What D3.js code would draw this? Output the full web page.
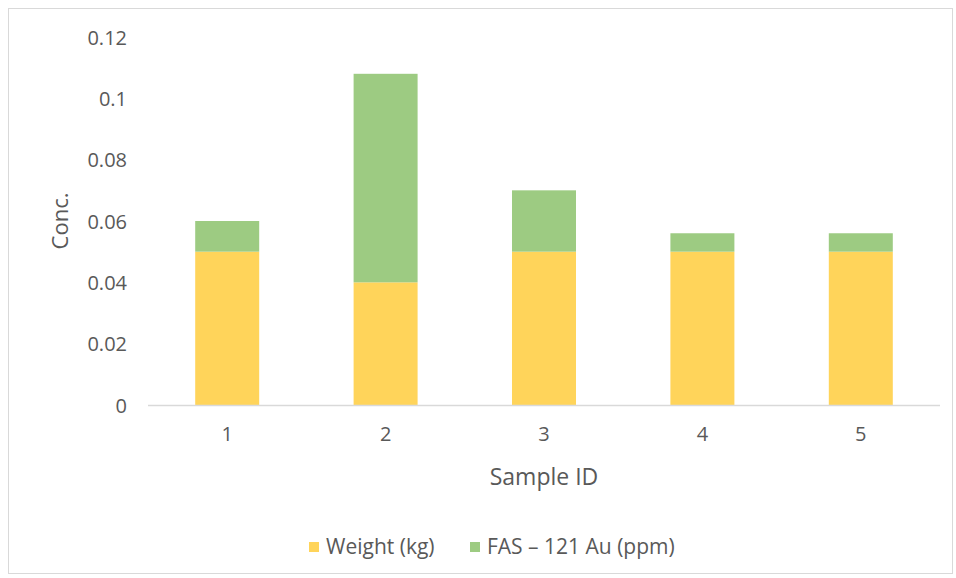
<!DOCTYPE html>
<html>
<head>
<meta charset="utf-8">
<script src="https://cdn.jsdelivr.net/npm/d3@7/dist/d3.min.js"></script>
<style>
  html, body { margin: 0; padding: 0; background: #fff; }
  svg text { font-family: "Open Sans", "Noto Sans", sans-serif; fill: #595959; }
</style>
</head>
<body>
<svg id="chart" width="956" height="578"></svg>
<script>
// Sample IDs and stacked series values
const categories = ["1", "2", "3", "4", "5"];
const weightKg = [0.05, 0.04, 0.05, 0.05, 0.05];
const fasAu = [0.01, 0.068, 0.02, 0.006, 0.006];
const seriesNames = ["Weight (kg)", "FAS \u2013 121 Au (ppm)"];
const seriesColors = ["#ffd45a", "#9dcb82"];
const yTicks = [0, 0.02, 0.04, 0.06, 0.08, 0.1, 0.12];

const svg = d3.select("#chart");
const W = 956, H = 578;

// Outer chart frame
svg.append("rect")
  .attr("x", 8.5).attr("y", 8.5)
  .attr("width", W - 12).attr("height", H - 13)
  .attr("fill", "#fff").attr("stroke", "#d9d9d9").attr("stroke-width", 1);

const plot = { left: 148, right: 940, top: 37, bottom: 405 };

const x = d3.scaleBand()
  .domain(categories)
  .range([plot.left, plot.right])
  .paddingInner(0.596)
  .paddingOuter(0.298);

const y = d3.scaleLinear()
  .domain([0, 0.12])
  .range([plot.bottom, plot.top]);

const rows = categories.map((c, i) => ({ id: c, w: weightKg[i], f: fasAu[i] }));
const stack = d3.stack().keys(["w", "f"]);
const layers = stack(rows);

svg.append("g")
  .selectAll("g")
  .data(layers)
  .join("g")
  .attr("fill", (d, i) => seriesColors[i])
  .selectAll("rect")
  .data(d => d)
  .join("rect")
  .attr("x", d => x(d.data.id))
  .attr("width", x.bandwidth())
  .attr("y", d => y(d[1]))
  .attr("height", d => y(d[0]) - y(d[1]));

// X axis baseline
svg.append("line")
  .attr("x1", plot.left).attr("x2", plot.right)
  .attr("y1", y(0) + 0.5).attr("y2", y(0) + 0.5)
  .attr("stroke", "#d9d9d9").attr("stroke-width", 1.5);

// Y tick labels
const yAxis = d3.axisLeft(y).tickValues(yTicks).tickSize(0).tickPadding(0)
  .tickFormat(d => d === 0 ? "0" : String(+d.toFixed(2)));
const gy = svg.append("g").attr("transform", `translate(${plot.left - 21},0)`).call(yAxis);
gy.select(".domain").remove();
gy.selectAll("text").attr("font-size", 20).attr("dy", "0.35em")
  .style("font-family", "\"Open Sans\", sans-serif").attr("fill", "#595959");

// X tick labels
const xAxis = d3.axisBottom(x).tickSize(0).tickPadding(0);
const gx = svg.append("g").attr("transform", `translate(0,${plot.bottom + 22})`).call(xAxis);
gx.select(".domain").remove();
gx.selectAll("text").attr("font-size", 20).attr("dy", "0.71em")
  .style("font-family", "\"Open Sans\", sans-serif").attr("fill", "#595959");

// Axis titles
svg.append("text")
  .attr("x", (plot.left + plot.right) / 2).attr("y", 477)
  .attr("text-anchor", "middle").attr("dy", "0.35em")
  .attr("font-size", 23).text("Sample ID");

svg.append("text")
  .attr("transform", `translate(60,${(plot.top + plot.bottom) / 2}) rotate(-90)`)
  .attr("text-anchor", "middle").attr("dy", "0.35em")
  .attr("font-size", 22).text("Conc.");

// Legend
const legendItems = [
  { name: seriesNames[0], color: seriesColors[0], x: 309 },
  { name: seriesNames[1], color: seriesColors[1], x: 470 }
];
const lg = svg.append("g").selectAll("g").data(legendItems).join("g")
  .attr("transform", d => `translate(${d.x},547)`);
lg.append("rect").attr("x", 0).attr("y", -5).attr("width", 10).attr("height", 10)
  .attr("fill", d => d.color);
lg.append("text").attr("x", 17).attr("dy", "0.35em").attr("font-size", 21)
  .text(d => d.name);
</script>
</body>
</html>
